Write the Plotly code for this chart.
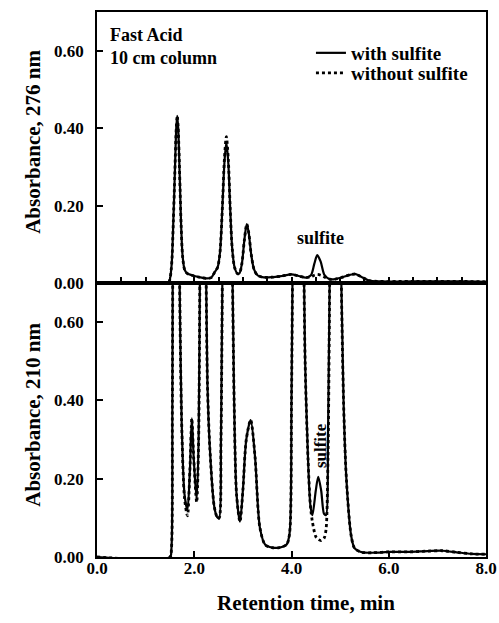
import plotly.graph_objects as go
from plotly.subplots import make_subplots

# ---------------- data ----------------
# Top panel: absorbance at 276 nm
t276 = [0.00, 1.40, 1.48, 1.53, 1.57, 1.60, 1.63, 1.65, 1.67, 1.70, 1.73, 1.76, 1.80, 1.85,
        1.95, 2.10, 2.25, 2.35, 2.42, 2.48, 2.53, 2.58, 2.62, 2.66, 2.70, 2.74, 2.78, 2.83,
        2.89, 2.93, 2.98, 3.03, 3.08, 3.12, 3.17, 3.23, 3.30, 3.40, 3.60, 3.80, 4.00, 4.15,
        4.30, 4.40, 4.47, 4.53, 4.60, 4.68, 4.78, 4.90, 5.05, 5.20, 5.32, 5.45, 5.60, 5.80,
        6.50, 7.50, 8.00]
a276_with = [0.000, 0.000, 0.003, 0.040, 0.160, 0.280, 0.400, 0.432, 0.400, 0.280, 0.150, 0.070,
             0.035, 0.025, 0.020, 0.015, 0.012, 0.014, 0.028, 0.040, 0.080, 0.200, 0.310, 0.364,
             0.310, 0.190, 0.090, 0.040, 0.024, 0.025, 0.050, 0.110, 0.152, 0.130, 0.075, 0.035,
             0.020, 0.015, 0.015, 0.018, 0.022, 0.018, 0.014, 0.020, 0.050, 0.072, 0.055, 0.020,
             0.010, 0.010, 0.015, 0.021, 0.023, 0.015, 0.006, 0.004, 0.004, 0.004, 0.003]
a276_without = [0.000, 0.000, 0.003, 0.040, 0.160, 0.280, 0.400, 0.432, 0.400, 0.280, 0.150, 0.070,
                0.035, 0.025, 0.020, 0.015, 0.012, 0.014, 0.028, 0.040, 0.080, 0.200, 0.320, 0.378,
                0.320, 0.190, 0.090, 0.040, 0.024, 0.025, 0.050, 0.110, 0.152, 0.130, 0.075, 0.035,
                0.020, 0.015, 0.015, 0.018, 0.022, 0.018, 0.014, 0.016, 0.020, 0.022, 0.020, 0.015,
                0.010, 0.010, 0.015, 0.021, 0.023, 0.015, 0.006, 0.004, 0.004, 0.004, 0.003]

# Bottom panel: absorbance at 210 nm (tall peaks run off scale)
t210 = [0.00, 1.50, 1.53, 1.55, 1.57, 1.61, 1.66, 1.70, 1.74, 1.80, 1.86, 1.91, 1.95, 1.99,
        2.05, 2.09, 2.12, 2.17, 2.23, 2.27, 2.32, 2.41, 2.47, 2.51, 2.55, 2.59, 2.68, 2.77,
        2.82, 2.87, 2.94, 3.00, 3.07, 3.16, 3.25, 3.35, 3.46, 3.60, 3.75, 3.90, 3.96, 4.00,
        4.04, 4.13, 4.23, 4.28, 4.34, 4.39, 4.43, 4.50, 4.55, 4.61, 4.67, 4.71, 4.75, 4.80,
        4.90, 5.00, 5.07, 5.13, 5.23, 5.30, 5.45, 5.70, 6.00, 6.40, 6.80, 7.10, 7.40, 7.70,
        8.00]
a210_with = [0.000, 0.000, 0.020, 0.400, 1.200, 1.800, 1.500, 0.700, 0.350, 0.160, 0.120, 0.220,
             0.354, 0.250, 0.146, 0.300, 0.800, 1.500, 0.900, 0.450, 0.280, 0.130, 0.102, 0.099,
             0.300, 0.900, 1.800, 0.900, 0.400, 0.160, 0.090, 0.170, 0.300, 0.350, 0.256, 0.075,
             0.031, 0.024, 0.024, 0.032, 0.060, 0.400, 1.000, 1.800, 1.000, 0.500, 0.250, 0.130,
             0.107, 0.170, 0.205, 0.170, 0.110, 0.107, 0.300, 0.900, 1.800, 0.900, 0.400, 0.197,
             0.052, 0.022, 0.012, 0.011, 0.013, 0.013, 0.015, 0.016, 0.012, 0.008, 0.007]
a210_without = [0.000, 0.000, 0.020, 0.400, 1.200, 1.800, 1.500, 0.700, 0.350, 0.150, 0.105, 0.220,
                0.354, 0.250, 0.140, 0.300, 0.800, 1.500, 0.900, 0.450, 0.280, 0.130, 0.102, 0.099,
                0.300, 0.900, 1.800, 0.900, 0.400, 0.160, 0.090, 0.170, 0.300, 0.350, 0.256, 0.075,
                0.031, 0.024, 0.024, 0.032, 0.060, 0.400, 1.000, 1.800, 1.000, 0.500, 0.250, 0.130,
                0.090, 0.052, 0.045, 0.042, 0.048, 0.070, 0.250, 0.900, 1.800, 0.900, 0.400, 0.197,
                0.052, 0.022, 0.012, 0.011, 0.013, 0.013, 0.015, 0.016, 0.012, 0.008, 0.007]

series_names = ["with sulfite", "without sulfite"]
x_ticks = [0.0, 2.0, 4.0, 6.0, 8.0]
y_ticks = [0.0, 0.2, 0.4, 0.6]

# ---------------- figure ----------------
FONT = "Liberation Serif"
fig = make_subplots(rows=2, cols=1, shared_xaxes=True, vertical_spacing=0)

fig.add_trace(go.Scatter(x=t276, y=a276_with, mode="lines", name=series_names[0], legend="legend",
                         line=dict(color="black", width=2.2, shape="spline", smoothing=0.8)),
              row=1, col=1)
fig.add_trace(go.Scatter(x=t276, y=a276_without, mode="lines", name=series_names[1], legend="legend2",
                         line=dict(color="black", width=2.8, dash="dot", shape="spline", smoothing=0.8)),
              row=1, col=1)
fig.add_trace(go.Scatter(x=t210, y=a210_with, mode="lines", name=series_names[0], showlegend=False,
                         line=dict(color="black", width=2.2, shape="spline", smoothing=0.8)),
              row=2, col=1)
fig.add_trace(go.Scatter(x=t210, y=a210_without, mode="lines", name=series_names[1], showlegend=False,
                         line=dict(color="black", width=2.8, dash="dot", shape="spline", smoothing=0.8)),
              row=2, col=1)

tickfont = dict(family=FONT, size=17, color="black", weight="bold")
axis_common = dict(showline=True, linecolor="black", linewidth=1.8, mirror=True,
                   ticks="inside", tickcolor="black", tickwidth=1.6, showgrid=False,
                   zeroline=False, automargin=False)
legend_font = dict(family=FONT, size=19, color="black", weight="bold")

fig.update_layout(
    width=499, height=623,
    margin=dict(l=97, r=13, t=12, b=66),
    paper_bgcolor="white", plot_bgcolor="white",
    showlegend=True,
    legend=dict(x=0.55, y=0.9248, xanchor="left", yanchor="middle",
                bgcolor="rgba(0,0,0,0)", font=legend_font),
    legend2=dict(x=0.55, y=0.888, xanchor="left", yanchor="middle",
                 bgcolor="rgba(0,0,0,0)", font=legend_font),
    xaxis=dict(range=[0, 8], tickvals=[0.5 * i for i in range(1, 16)], ticklen=6,
               showticklabels=False, **axis_common),
    xaxis2=dict(range=[0, 8], tickvals=x_ticks, tickformat=".1f", ticklen=6,
                tickfont=tickfont, ticklabelstandoff=-5, **axis_common),
    yaxis=dict(domain=[0.5028, 1.0], range=[0, 0.70], tickvals=y_ticks, tickformat=".2f",
               ticklen=6, tickfont=tickfont, ticklabelstandoff=8, **axis_common),
    yaxis2=dict(domain=[0.0, 0.5028], range=[0, 0.70], tickvals=y_ticks, tickformat=".2f",
                ticklen=6, tickfont=tickfont, ticklabelstandoff=8, **axis_common),
)

ann_font = dict(family=FONT, color="black", weight="bold")
fig.add_annotation(text="Fast Acid<br>10 cm column", xref="paper", yref="paper",
                   x=0.028, y=0.98, xanchor="left", yanchor="top", align="left",
                   showarrow=False, font=dict(size=18, **ann_font))
fig.add_annotation(text="sulfite", xref="x", yref="y", x=4.6, y=0.116,
                   showarrow=False, font=dict(size=18, **ann_font))
fig.add_annotation(text="sulfite", xref="x2", yref="y2", x=4.6, y=0.285, textangle=-90,
                   showarrow=False, font=dict(size=17, **ann_font))
fig.add_annotation(text="Absorbance, 276 nm", xref="paper", yref="paper",
                   x=-0.165, y=0.7615, xanchor="center", yanchor="middle", textangle=-90,
                   showarrow=False, font=dict(size=21, **ann_font))
fig.add_annotation(text="Absorbance, 210 nm", xref="paper", yref="paper",
                   x=-0.165, y=0.2606, xanchor="center", yanchor="middle", textangle=-90,
                   showarrow=False, font=dict(size=21, **ann_font))
fig.add_annotation(text="Retention time, min", xref="paper", yref="paper",
                   x=0.536, y=-0.0844, xanchor="center", yanchor="middle",
                   showarrow=False, font=dict(size=21, **ann_font))

# remove the browser's default 8px page margin so the figure sits at the window origin
fig.write_html("out.html", config={"displayModeBar": False},
               post_script="document.body.style.margin='0';document.body.style.overflow='hidden';")
